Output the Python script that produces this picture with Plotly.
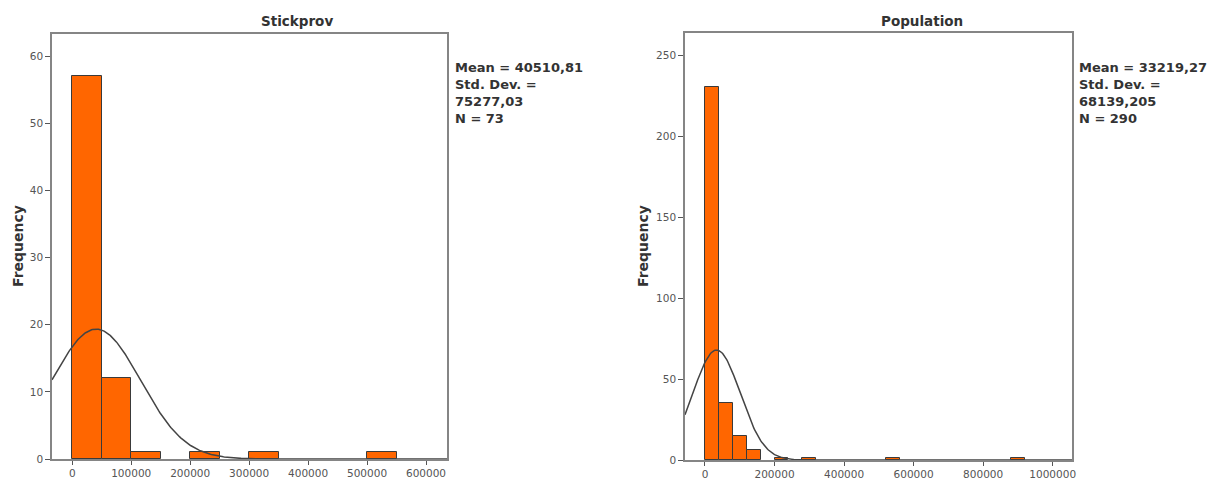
import numpy as np
import plotly.graph_objects as go

# ---- data ----
s_bin_width = 50000
s_bin_starts = [0, 50000, 100000, 150000, 200000, 250000, 300000, 350000, 400000, 450000, 500000]
s_counts = [57, 12, 1, 0, 1, 0, 1, 0, 0, 0, 1]
s_mean, s_sd, s_n = 40510.81, 75277.03, 73

p_bin_width = 40000
p_bin_starts = [0, 40000, 80000, 120000, 160000, 200000, 240000, 280000, 520000, 880000]
p_counts = [230, 35, 15, 6, 0, 1, 0, 1, 1, 1]
p_mean, p_sd, p_n = 33219.27, 68139.205, 290

s_stats = ["Mean = 40510,81", "Std. Dev. =", "75277,03", "N = 73"]
p_stats = ["Mean = 33219,27", "Std. Dev. =", "68139,205", "N = 290"]

s_xticks = [0, 100000, 200000, 300000, 400000, 500000, 600000]
s_yticks = [0, 10, 20, 30, 40, 50, 60]
p_xticks = [0, 200000, 400000, 600000, 800000, 1000000]
p_yticks = [0, 50, 100, 150, 200, 250]

s_xrange = [-34400, 635600]
s_yrange = [0, 63.3]
p_xrange = [-57500, 1055500]
p_yrange = [0, 263.6]

FONT = "DejaVu Sans"
BAR = "#FF6600"
EDGE = "#3a3a3a"

fig = go.Figure()


def add_hist(starts, counts, width, mean, sd, n, xr, xa, ya):
    xs = [s + width / 2 for s, c in zip(starts, counts) if c > 0]
    ys = [c for c in counts if c > 0]
    fig.add_trace(go.Bar(x=xs, y=ys, width=width, marker=dict(color=BAR, line=dict(color=EDGE, width=1)),
                         xaxis=xa, yaxis=ya, showlegend=False))
    gx = np.linspace(xr[0], xr[1], 400)
    gy = n * width * np.exp(-0.5 * ((gx - mean) / sd) ** 2) / (sd * np.sqrt(2 * np.pi))
    fig.add_trace(go.Scatter(x=gx, y=gy, mode="lines", line=dict(color="#444444", width=1.5),
                             xaxis=xa, yaxis=ya, showlegend=False, hoverinfo="skip"))


add_hist(s_bin_starts, s_counts, s_bin_width, s_mean, s_sd, s_n, s_xrange, "x", "y")
add_hist(p_bin_starts, p_counts, p_bin_width, p_mean, p_sd, p_n, p_xrange, "x2", "y2")

axis_common = dict(showline=True, linecolor="#858585", linewidth=1.5, mirror=True, showgrid=False,
                   zeroline=False, ticks="outside", tickcolor="#555555", automargin=False,
                   tickfont=dict(family=FONT, size=10.5, color="#555555"))

fig.update_layout(
    width=1215, height=480,
    margin=dict(l=0, r=0, t=0, b=0),
    paper_bgcolor="white", plot_bgcolor="white",
    bargap=0,
    xaxis=dict(domain=[52 / 1215, 447 / 1215], range=s_xrange, tickvals=s_xticks, ticklen=4,
               ticktext=[str(v) for v in s_xticks], anchor="y", **axis_common),
    yaxis=dict(domain=[21 / 480, 446 / 480], range=s_yrange, tickvals=s_yticks, ticklen=5,
               anchor="x", **axis_common),
    xaxis2=dict(domain=[685 / 1215, 1072 / 1215], range=p_xrange, tickvals=p_xticks, ticklen=4,
                ticktext=[str(v) for v in p_xticks], anchor="y2", **axis_common),
    yaxis2=dict(domain=[20 / 480, 447 / 480], range=p_yrange, tickvals=p_yticks, ticklen=5,
                anchor="x2", **axis_common),
)

ann_font_b = dict(family=FONT, size=13.5, color="#333333")
fig.add_annotation(text="<b>Stickprov</b>", x=297 / 1215, y=1 - 21 / 480, xref="paper", yref="paper",
                   showarrow=False, font=ann_font_b, xanchor="center", yanchor="middle")
fig.add_annotation(text="<b>Population</b>", x=922 / 1215, y=1 - 21 / 480, xref="paper", yref="paper",
                   showarrow=False, font=ann_font_b, xanchor="center", yanchor="middle")
for fx in (18, 643):
    fig.add_annotation(text="<b>Frequency</b>", x=fx / 1215, y=1 - 246 / 480, xref="paper", yref="paper",
                       showarrow=False, font=dict(family=FONT, size=14, color="#333333"), textangle=-90,
                       xanchor="center", yanchor="middle")
for lines, fx in ((s_stats, 453), (p_stats, 1077)):
    fig.add_annotation(text="<br>".join("<b>" + t + "</b>" for t in lines), x=fx / 1215, y=1 - 58 / 480,
                       xref="paper", yref="paper", showarrow=False, align="left",
                       font=dict(family=FONT, size=13, color="#333333"), xanchor="left", yanchor="top")

fig.write_html("out.html", config={"displayModeBar": False},
               post_script="document.body.style.margin='0';document.body.style.overflow='hidden';")
